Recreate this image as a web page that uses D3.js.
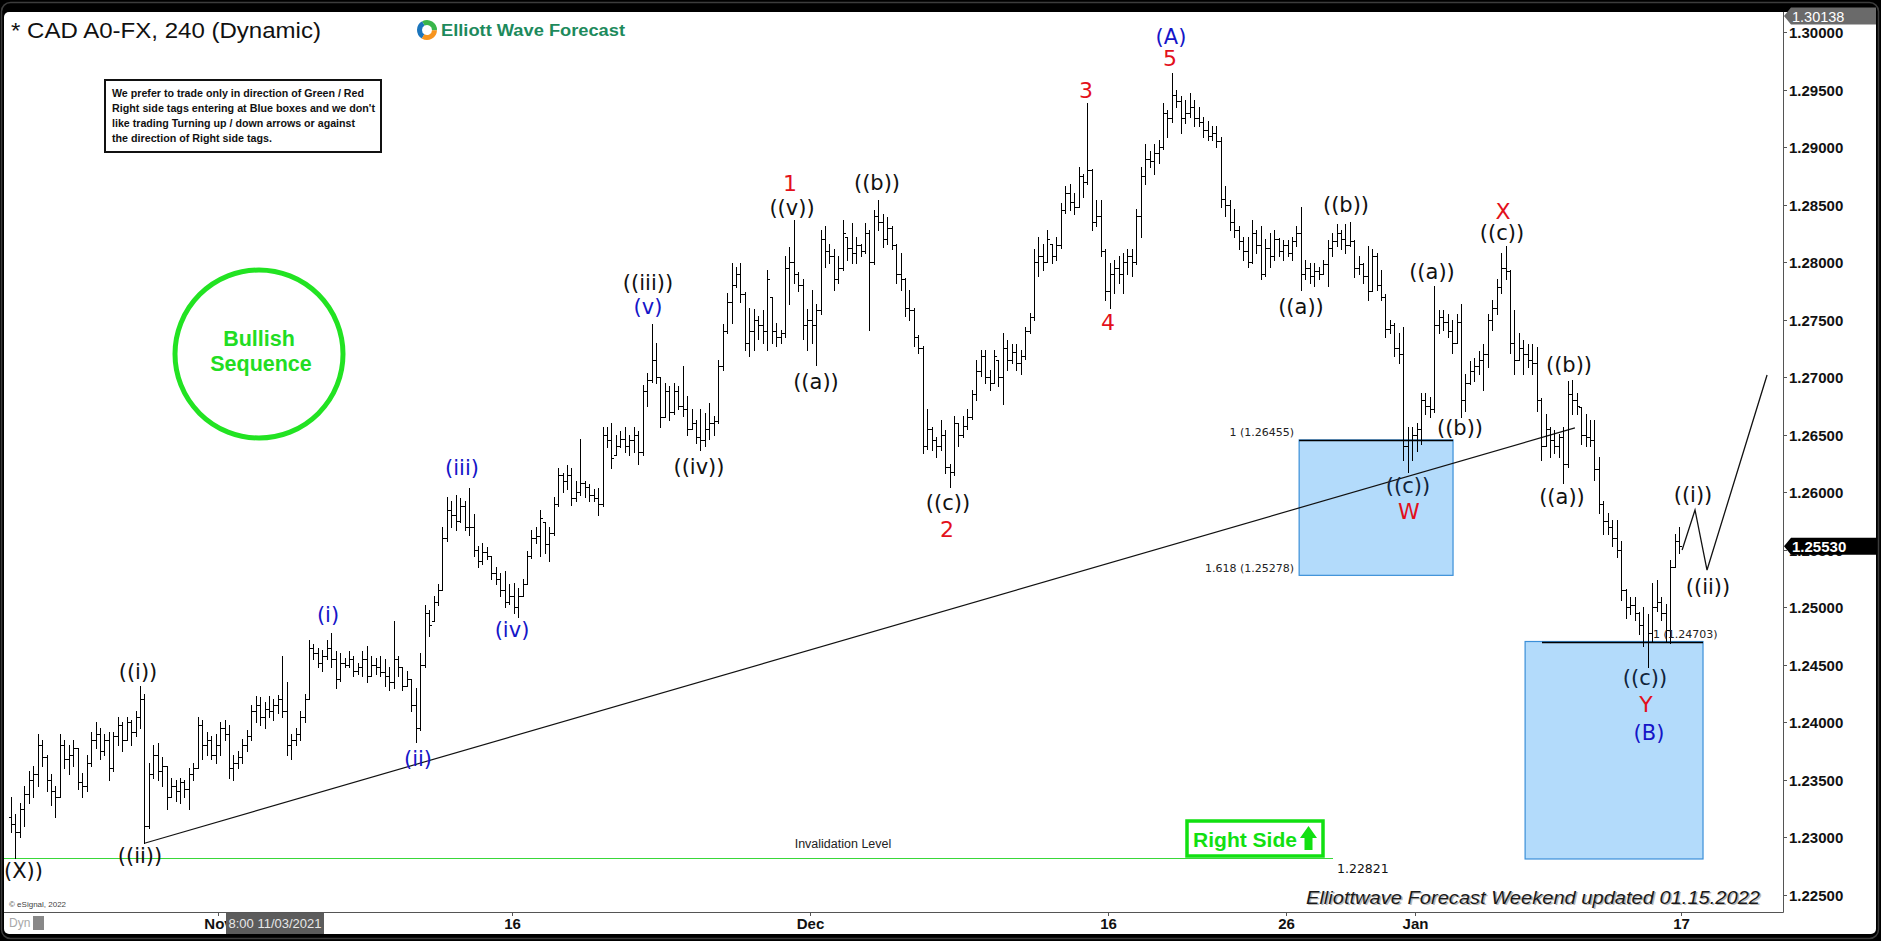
<!DOCTYPE html>
<html><head><meta charset="utf-8">
<script src="https://cdn.jsdelivr.net/npm/d3@7"></script>
<style>html,body{margin:0;padding:0;background:#000;overflow:hidden}</style>
</head><body><svg id="c" width="1881" height="941"></svg>
<script>
// ---------------- DATA (USD/CAD 4h bars) ----------------
const firstOpen = 1.2318;
const highs = [
1.2335,1.2320,1.2330,1.2345,1.2358,1.2362,1.2390,1.2385,1.2372,1.2355,
1.2345,1.2390,1.2385,1.2380,1.2385,1.2378,1.2356,1.2372,1.2392,1.2400,
1.2395,1.2390,1.2392,1.2392,1.2405,1.2400,1.2405,1.2402,1.2410,1.2432,
1.2425,1.2365,1.2380,1.2382,1.2370,1.2362,1.2352,1.2350,1.2352,1.2350,
1.2360,1.2365,1.2405,1.2402,1.2392,1.2388,1.2390,1.2400,1.2402,1.2398,
1.2372,1.2375,1.2386,1.2393,1.2415,1.2423,1.2422,1.2418,1.2423,1.2420,
1.2424,1.2458,1.2435,1.2390,1.2395,1.2410,1.2425,1.2472,1.2468,1.2465,
1.2463,1.2472,1.2478,1.2462,1.2460,1.2456,1.2462,1.2458,1.2452,1.2462,
1.2466,1.2458,1.2456,1.2458,1.2455,1.2448,1.2488,1.2458,1.2448,1.2445,
1.2438,1.2430,1.2460,1.2502,1.2498,1.2510,1.2520,1.2570,1.2596,1.2592,
1.2598,1.2595,1.2592,1.2604,1.2581,1.2553,1.2556,1.2552,1.2545,1.2535,
1.2530,1.2532,1.2520,1.2521,1.2517,1.2525,1.2549,1.2567,1.2570,1.2585,
1.2574,1.2570,1.2596,1.2621,1.2617,1.2624,1.2621,1.2610,1.2646,1.2610,
1.2607,1.2603,1.2604,1.2657,1.2657,1.2660,1.2650,1.2653,1.2657,1.2650,
1.2657,1.2653,1.2693,1.2704,1.2746,1.2730,1.2700,1.2695,1.2692,1.2695,
1.2692,1.2710,1.2684,1.2672,1.2663,1.2672,1.2669,1.2678,1.2666,1.2715,
1.2746,1.2773,1.2799,1.2796,1.2799,1.2774,1.2760,1.2759,1.2753,1.2758,
1.2793,1.2770,1.2747,1.2741,1.2805,1.2813,1.2837,1.2791,1.2785,1.2759,
1.2776,1.2764,1.2828,1.2831,1.2816,1.2811,1.2805,1.2837,1.2822,1.2834,
1.2822,1.2816,1.2834,1.2828,1.2845,1.2854,1.2842,1.2839,1.2831,1.2816,
1.2808,1.2786,1.2776,1.2760,1.2737,1.2727,1.2672,1.2657,1.2648,1.2663,
1.2654,1.2625,1.2666,1.2660,1.2666,1.2672,1.2689,1.2715,1.2724,1.2724,
1.2706,1.2724,1.2715,1.2738,1.2732,1.2729,1.2729,1.2724,1.2744,1.2756,
1.2811,1.2822,1.2816,1.2828,1.2816,1.2822,1.2851,1.2866,1.2868,1.2860,
1.2883,1.2877,1.2938,1.2881,1.2854,1.2854,1.2811,1.2799,1.2802,1.2805,
1.2808,1.2811,1.2811,1.2846,1.2883,1.2903,1.2897,1.2903,1.2906,1.2938,
1.2932,1.2964,1.2950,1.2944,1.2941,1.2947,1.2941,1.2935,1.2926,1.2923,
1.2918,1.2918,1.2909,1.2866,1.2854,1.2846,1.2831,1.2822,1.2822,1.2837,
1.2828,1.2831,1.2820,1.2825,1.2828,1.2821,1.2819,1.2819,1.2822,1.2831,
1.2848,1.2802,1.2799,1.2799,1.2796,1.2802,1.2819,1.2825,1.2833,1.2828,
1.2833,1.2835,1.2819,1.2805,1.2799,1.2814,1.2811,1.2808,1.2793,1.2772,
1.2750,1.2747,1.2738,1.2744,1.2657,1.2657,1.2660,1.2686,1.2686,1.2683,
1.2779,1.2758,1.2758,1.2755,1.2750,1.2755,1.2764,1.2703,1.2714,1.2717,
1.2723,1.2729,1.2755,1.2767,1.2785,1.2808,1.2814,1.2793,1.2758,1.2738,
1.2732,1.2729,1.2729,1.2726,1.2682,1.2668,1.2657,1.2654,1.2651,1.2657,
1.2697,1.2698,1.2686,1.2674,1.2668,1.2663,1.2663,1.2631,1.2592,1.2582,
1.2576,1.2576,1.2558,1.2516,1.2509,1.2509,1.2496,1.2500,1.2494,1.2521,
1.2524,1.2509,1.2503,1.2541,1.2564,1.2570];
const lows = [
1.2305,1.2282,1.2300,1.2310,1.2330,1.2335,1.2345,1.2362,1.2340,1.2328,
1.2318,1.2335,1.2360,1.2355,1.2362,1.2342,1.2335,1.2340,1.2362,1.2378,
1.2368,1.2372,1.2350,1.2358,1.2380,1.2375,1.2385,1.2380,1.2388,1.2395,
1.2295,1.2308,1.2352,1.2350,1.2345,1.2325,1.2335,1.2332,1.2330,1.2335,
1.2325,1.2350,1.2360,1.2368,1.2372,1.2368,1.2365,1.2372,1.2385,1.2352,
1.2350,1.2360,1.2365,1.2375,1.2385,1.2400,1.2398,1.2395,1.2405,1.2402,
1.2408,1.2405,1.2372,1.2368,1.2380,1.2385,1.2400,1.2420,1.2455,1.2448,
1.2445,1.2455,1.2448,1.2430,1.2436,1.2448,1.2448,1.2440,1.2442,1.2440,
1.2435,1.2440,1.2442,1.2440,1.2432,1.2428,1.2430,1.2440,1.2428,1.2432,
1.2410,1.2383,1.2393,1.2448,1.2475,1.2488,1.2502,1.2515,1.2558,1.2570,
1.2567,1.2574,1.2567,1.2563,1.2545,1.2535,1.2538,1.2542,1.2525,1.2520,
1.2510,1.2500,1.2503,1.2495,1.2492,1.2510,1.2520,1.2543,1.2556,1.2545,
1.2547,1.2540,1.2563,1.2588,1.2600,1.2603,1.2589,1.2592,1.2598,1.2596,
1.2592,1.2592,1.2580,1.2588,1.2639,1.2621,1.2632,1.2639,1.2635,1.2632,
1.2635,1.2625,1.2632,1.2675,1.2696,1.2695,1.2657,1.2665,1.2663,1.2668,
1.2672,1.2666,1.2650,1.2655,1.2643,1.2637,1.2640,1.2646,1.2650,1.2660,
1.2706,1.2738,1.2747,1.2778,1.2765,1.2724,1.2718,1.2724,1.2733,1.2730,
1.2724,1.2730,1.2727,1.2730,1.2735,1.2764,1.2782,1.2775,1.2733,1.2724,
1.2730,1.2711,1.2755,1.2796,1.2799,1.2776,1.2782,1.2793,1.2802,1.2799,
1.2799,1.2805,1.2808,1.2741,1.2798,1.2828,1.2813,1.2816,1.2811,1.2782,
1.2776,1.2753,1.2750,1.2727,1.2721,1.2634,1.2638,1.2637,1.2631,1.2637,
1.2617,1.2605,1.2615,1.2640,1.2648,1.2655,1.2664,1.2680,1.2701,1.2695,
1.2689,1.2695,1.2692,1.2677,1.2706,1.2712,1.2706,1.2703,1.2716,1.2738,
1.2750,1.2788,1.2793,1.2800,1.2799,1.2802,1.2812,1.2843,1.2845,1.2842,
1.2848,1.2857,1.2868,1.2828,1.2831,1.2805,1.2767,1.2760,1.2773,1.2782,
1.2773,1.2790,1.2788,1.2798,1.2822,1.2868,1.2883,1.2877,1.2886,1.2898,
1.2909,1.2922,1.2935,1.2912,1.2921,1.2926,1.2918,1.2918,1.2909,1.2906,
1.2906,1.2900,1.2848,1.2840,1.2828,1.2822,1.2811,1.2802,1.2796,1.2799,
1.2808,1.2785,1.2788,1.2796,1.2802,1.2805,1.2802,1.2805,1.2802,1.2814,
1.2776,1.2785,1.2782,1.2779,1.2785,1.2790,1.2779,1.2805,1.2814,1.2811,
1.2808,1.2814,1.2787,1.2790,1.2782,1.2767,1.2775,1.2776,1.2767,1.2735,
1.2738,1.2718,1.2712,1.2628,1.2618,1.2628,1.2636,1.2642,1.2668,1.2665,
1.2670,1.2738,1.2741,1.2735,1.2721,1.2730,1.2665,1.2671,1.2694,1.2697,
1.2703,1.2689,1.2709,1.2741,1.2755,1.2773,1.2785,1.2721,1.2703,1.2715,
1.2703,1.2709,1.2703,1.2671,1.2628,1.2640,1.2631,1.2634,1.2631,1.2608,
1.2622,1.2668,1.2668,1.2642,1.2640,1.2640,1.2611,1.2582,1.2564,1.2564,
1.2553,1.2544,1.2506,1.2491,1.2494,1.2489,1.2477,1.2466,1.2448,1.2471,
1.2497,1.2489,1.2471,1.2469,1.2535,1.2547];
const closes = [
1.2312,1.2305,1.2325,1.2338,1.2350,1.2355,1.2380,1.2370,1.2350,1.2340,
1.2335,1.2380,1.2368,1.2372,1.2378,1.2348,1.2345,1.2365,1.2385,1.2390,
1.2375,1.2385,1.2360,1.2388,1.2398,1.2385,1.2400,1.2392,1.2405,1.2420,
1.2310,1.2355,1.2372,1.2358,1.2362,1.2335,1.2345,1.2340,1.2348,1.2342,
1.2355,1.2360,1.2398,1.2380,1.2385,1.2372,1.2380,1.2395,1.2390,1.2360,
1.2365,1.2370,1.2380,1.2388,1.2410,1.2415,1.2405,1.2412,1.2410,1.2415,
1.2420,1.2410,1.2380,1.2385,1.2390,1.2405,1.2420,1.2465,1.2460,1.2452,
1.2458,1.2465,1.2455,1.2438,1.2452,1.2450,1.2455,1.2445,1.2448,1.2455,
1.2440,1.2450,1.2448,1.2444,1.2440,1.2435,1.2455,1.2448,1.2432,1.2438,
1.2415,1.2395,1.2450,1.2495,1.2485,1.2505,1.2515,1.2560,1.2585,1.2580,
1.2575,1.2588,1.2570,1.2570,1.2550,1.2540,1.2548,1.2545,1.2530,1.2525,
1.2515,1.2505,1.2510,1.2500,1.2510,1.2520,1.2545,1.2560,1.2562,1.2578,
1.2555,1.2565,1.2590,1.2615,1.2610,1.2615,1.2595,1.2600,1.2608,1.2605,
1.2598,1.2595,1.2590,1.2650,1.2645,1.2630,1.2640,1.2646,1.2640,1.2645,
1.2650,1.2635,1.2688,1.2698,1.2715,1.2700,1.2665,1.2688,1.2670,1.2688,
1.2675,1.2672,1.2655,1.2660,1.2648,1.2645,1.2655,1.2660,1.2662,1.2710,
1.2740,1.2765,1.2780,1.2790,1.2772,1.2730,1.2740,1.2750,1.2745,1.2740,
1.2785,1.2740,1.2735,1.2738,1.2795,1.2800,1.2790,1.2780,1.2745,1.2750,
1.2745,1.2758,1.2820,1.2810,1.2805,1.2785,1.2795,1.2825,1.2812,1.2808,
1.2815,1.2810,1.2825,1.2800,1.2840,1.2835,1.2820,1.2830,1.2815,1.2790,
1.2785,1.2760,1.2758,1.2735,1.2725,1.2640,1.2655,1.2645,1.2640,1.2650,
1.2622,1.2618,1.2660,1.2650,1.2658,1.2665,1.2685,1.2705,1.2718,1.2700,
1.2695,1.2718,1.2700,1.2725,1.2715,1.2722,1.2712,1.2718,1.2740,1.2752,
1.2800,1.2805,1.2800,1.2820,1.2805,1.2815,1.2845,1.2860,1.2852,1.2848,
1.2875,1.2870,1.2880,1.2835,1.2840,1.2810,1.2775,1.2790,1.2795,1.2790,
1.2800,1.2805,1.2800,1.2840,1.2875,1.2890,1.2888,1.2895,1.2900,1.2930,
1.2925,1.2945,1.2940,1.2925,1.2930,1.2935,1.2925,1.2922,1.2915,1.2910,
1.2912,1.2905,1.2855,1.2850,1.2835,1.2828,1.2818,1.2810,1.2800,1.2825,
1.2815,1.2790,1.2812,1.2805,1.2820,1.2810,1.2815,1.2808,1.2818,1.2825,
1.2790,1.2795,1.2788,1.2792,1.2790,1.2798,1.2812,1.2818,1.2825,1.2820,
1.2815,1.2818,1.2795,1.2798,1.2788,1.2775,1.2805,1.2780,1.2770,1.2742,
1.2745,1.2725,1.2720,1.2640,1.2645,1.2650,1.2655,1.2680,1.2675,1.2672,
1.2745,1.2752,1.2748,1.2740,1.2730,1.2748,1.2680,1.2695,1.2705,1.2710,
1.2715,1.2720,1.2750,1.2760,1.2778,1.2795,1.2792,1.2730,1.2715,1.2725,
1.2720,1.2715,1.2712,1.2680,1.2640,1.2655,1.2645,1.2640,1.2648,1.2625,
1.2685,1.2680,1.2675,1.2650,1.2648,1.2645,1.2620,1.2590,1.2575,1.2570,
1.2560,1.2550,1.2515,1.2500,1.2502,1.2495,1.2485,1.2470,1.2478,1.2500,
1.2505,1.2495,1.2480,1.2535,1.2558,1.2553];

const yTickValues = [1.225,1.230,1.235,1.240,1.245,1.250,1.255,1.260,1.265,1.270,1.275,1.280,1.285,1.290,1.295,1.300];
const xTickLabels = ["Nov","16","Dec","16","26","Jan","17"];
const xTickBars   = [47,113,180,247,287,316,376];
const lastPrice = 1.25530, topTagPrice = 1.30138, invalidationPrice = 1.22821;
const boxW = [1.26455, 1.25278];   // blue box after W
const boxY = [1.24703, 1.22813];   // blue box at Y/(B)
const trendIdx = [30, 351.6], trendPrice = [1.2295, 1.2656];
const projIdx = [375.7, 378.6, 381.3, 394.8], projPrice = [1.25498, 1.25846, 1.25324, 1.27019];

// ---------------- SCALES ----------------
const svg = d3.select("#c");
const y = d3.scaleLinear().domain([1.225, 1.300]).range([895, 32]);
const x = d3.scaleLinear().domain([0, 375]).range([11, 1679]);
const n = Math.min(highs.length, lows.length, closes.length);

// ---------------- FRAME ----------------
svg.append("rect").attr("x",0).attr("y",0).attr("width",1881).attr("height",941).attr("fill","#000");
svg.append("rect").attr("x",1.5).attr("y",2.5).attr("width",1877).attr("height",936).attr("rx",9)
   .attr("fill","none").attr("stroke","#3c3c3c").attr("stroke-width",1.5);
svg.append("rect").attr("x",4).attr("y",12).attr("width",1872).attr("height",922).attr("rx",5).attr("fill","#fff");
svg.append("defs").append("clipPath").attr("id","plot").append("rect")
   .attr("x",4).attr("y",12).attr("width",1779).attr("height",900);
const plot = svg.append("g").attr("clip-path","url(#plot)");

// ---------------- BLUE BOXES ----------------
function blueBox(i0, i1, pTop, pBot, lineFrom){
  plot.append("rect").attr("x",x(i0)).attr("y",y(pTop)).attr("width",x(i1)-x(i0)).attr("height",y(pBot)-y(pTop))
     .attr("fill","#b3dbfb").attr("stroke","#3b8fd8").attr("stroke-width",1.2);
  plot.append("line").attr("x1",x(lineFrom)).attr("x2",x(i1)).attr("y1",Math.round(y(pTop))+0.5).attr("y2",Math.round(y(pTop))+0.5)
     .attr("stroke","#000").attr("stroke-width",1.3);
}
blueBox(289.6, 324.2, boxW[0], boxW[1], 289.6);
blueBox(340.4, 380.4, boxY[0], boxY[1], 344.2);

// invalidation line
plot.append("line").attr("x1",4).attr("x2",1333).attr("y1",Math.round(y(invalidationPrice))+0.5).attr("y2",Math.round(y(invalidationPrice))+0.5)
   .attr("stroke","#39d839").attr("stroke-width",1.2);

// trendline
plot.append("line").attr("x1",x(trendIdx[0])).attr("y1",y(trendPrice[0])).attr("x2",x(trendIdx[1])).attr("y2",y(trendPrice[1]))
   .attr("stroke","#111").attr("stroke-width",1.2);

// projection path
plot.append("path").attr("d", d3.line().x((d,k)=>x(projIdx[k])).y((d,k)=>y(projPrice[k]))(projIdx))
   .attr("fill","none").attr("stroke","#111").attr("stroke-width",1.3);

// ---------------- OHLC BARS ----------------
let dStr = "";
let prevClose = firstOpen;
for (let i = 0; i < n; i++) {
  const h = highs[i], l = lows[i], c = closes[i];
  const o = Math.max(l, Math.min(h, prevClose));
  const xi = Math.round(x(i)) + 0.5;
  const yh = Math.round(y(h)), yl = Math.round(y(l));
  dStr += `M${xi},${yh}V${yl + 1}`;
  const yo = Math.round(y(o)) + 0.5, yc = Math.round(y(c)) + 0.5;
  dStr += `M${xi - 2.5},${yo}H${xi}`;
  dStr += `M${xi},${yc}H${xi + 2.5}`;
  prevClose = c;
}
plot.append("path").attr("d", dStr).attr("fill","none").attr("stroke","#000").attr("stroke-width",1).attr("shape-rendering","crispEdges");

// ---------------- WAVE LABELS ----------------
const BLK="#111", BLU="#1515c8", RED="#e3101b", NAV="#10243c";
function lab(t, cx, cy, col, size, anchor){
  plot.append("text").attr("x",cx).attr("y",cy).attr("text-anchor",anchor||"middle").attr("dominant-baseline","central")
     .attr("font-family","'DejaVu Sans', Verdana, sans-serif").attr("font-size",size||21).attr("fill",col).text(t);
}
lab("((X))", 43, 871, BLK, 21, "end");
lab("((i))", 138, 672, BLK);
lab("((ii))", 140, 856, BLK);
lab("(i)", 328, 615, BLU);
lab("(ii)", 418, 759, BLU);
lab("(iii)", 462, 468, BLU);
lab("(iv)", 512, 630, BLU);
lab("((iii))", 648, 283, BLK);
lab("(v)", 648, 307, BLU);
lab("((iv))", 699, 467, BLK);
lab("1", 790, 183, RED, 22);
lab("((v))", 792, 208, BLK);
lab("((a))", 816, 382, BLK);
lab("((b))", 877, 183, BLK);
lab("((c))", 948, 503, BLK);
lab("2", 947, 529, RED, 22);
lab("3", 1086, 90, RED, 22);
lab("4", 1108, 322, RED, 22);
lab("(A)", 1171, 37, BLU);
lab("5", 1170, 58, RED, 22);
lab("((b))", 1346, 205, BLK);
lab("((a))", 1301, 307, BLK);
lab("((a))", 1432, 272, BLK);
lab("((b))", 1460, 428, BLK);
lab("((c))", 1408, 486, NAV);
lab("W", 1409, 511, RED, 22);
lab("X", 1503, 211, RED, 22);
lab("((c))", 1502, 233, BLK);
lab("((b))", 1569, 365, BLK);
lab("((a))", 1562, 497, BLK);
lab("((c))", 1645, 678, NAV);
lab("Y", 1646, 704, RED, 22);
lab("(B)", 1649, 733, BLU);
lab("((i))", 1693, 495, BLK);
lab("((ii))", 1708, 587, BLK);

// fib labels
function small(t, cx, cy, anchor){
  plot.append("text").attr("x",cx).attr("y",cy).attr("text-anchor",anchor).attr("dominant-baseline","central")
     .attr("font-family","'DejaVu Sans', Tahoma, sans-serif").attr("font-size",11).attr("fill","#222").text(t);
}
small("1 (" + boxW[0].toFixed(5) + ")", 1294, 432, "end");
small("1.618 (" + boxW[1].toFixed(5) + ")", 1294, 568, "end");
small("1 (" + boxY[0].toFixed(5) + ")", 1653, 634, "start");

plot.append("text").attr("x",843).attr("y",844).attr("text-anchor","middle").attr("dominant-baseline","central")
   .attr("font-family","'Liberation Sans', Arial, sans-serif").attr("font-size",12.5).attr("fill","#222").text("Invalidation Level");
plot.append("text").attr("x",1337).attr("y",868).attr("dominant-baseline","central")
   .attr("font-family","'DejaVu Sans', Tahoma, sans-serif").attr("font-size",12.5).attr("fill","#111").text(invalidationPrice.toFixed(5));

// Right Side tag
plot.append("rect").attr("x",1187).attr("y",821).attr("width",136).attr("height",35).attr("fill","#fff").attr("stroke","#11e011").attr("stroke-width",3.5);
plot.append("text").attr("x",1193).attr("y",839).attr("dominant-baseline","central").attr("font-family","'Liberation Sans', Arial, sans-serif")
   .attr("font-weight","bold").attr("font-size",21).attr("fill","#11e011").attr("textLength",104).attr("lengthAdjust","spacingAndGlyphs").text("Right Side");
plot.append("path").attr("d","M1308.5,826 L1317,838 L1312.5,838 L1312.5,850 L1304.5,850 L1304.5,838 L1300,838 Z").attr("fill","#11e011");

// Bullish Sequence circle
plot.append("circle").attr("cx",259).attr("cy",354).attr("r",84).attr("fill","none").attr("stroke","#22e322").attr("stroke-width",5);
["Bullish","Sequence"].forEach((t,k)=>{
  plot.append("text").attr("x",259 + k*2).attr("y",339 + k*25).attr("text-anchor","middle").attr("dominant-baseline","central")
    .attr("font-family","'Liberation Sans', Arial, sans-serif").attr("font-weight","bold").attr("font-size",21.5).attr("fill","#22dd22").text(t);
});

// note box
plot.append("rect").attr("x",105).attr("y",80).attr("width",276).attr("height",72).attr("fill","#fff").attr("stroke","#111").attr("stroke-width",2);
const notes = ["We prefer to trade only in direction of Green / Red","Right side tags entering at Blue boxes and we don't","like trading Turning up / down arrows or against","the direction of Right side tags."];
const noteW = [252, 263, 243, 160];
notes.forEach((t,k)=>{
  plot.append("text").attr("x",112).attr("y",93 + k*15).attr("dominant-baseline","central")
    .attr("font-family","'Liberation Sans Narrow', 'Arial Narrow', 'Liberation Sans', sans-serif").attr("font-weight","bold")
    .attr("font-size",11.5).attr("fill","#111").attr("textLength",noteW[k]).attr("lengthAdjust","spacingAndGlyphs").text(t);
});

// title + logo
svg.append("text").attr("x",11).attr("y",30).attr("dominant-baseline","central").attr("font-family","'Liberation Sans', Arial, sans-serif")
   .attr("font-size",22).attr("fill","#111").attr("textLength",310).attr("lengthAdjust","spacingAndGlyphs").text("* CAD A0-FX, 240 (Dynamic)");
const arc = d3.arc().innerRadius(5).outerRadius(10);
const logo = svg.append("g").attr("transform","translate(427,30)");
[[ -2.6, -0.5, "#1b75bc"],[ -0.5, 1.6, "#39b54a"],[1.6, 3.7, "#f7941d"]].forEach(a=>{
  logo.append("path").attr("d", arc({startAngle:a[0], endAngle:a[1]})).attr("fill", a[2]);
});
svg.append("text").attr("x",441).attr("y",30).attr("dominant-baseline","central").attr("font-family","'Liberation Sans', Arial, sans-serif")
   .attr("font-weight","bold").attr("font-size",16).attr("fill","#1d8a5c").attr("textLength",184).attr("lengthAdjust","spacingAndGlyphs").text("Elliott Wave Forecast");

// footer
["#b8b8b8","#1a1a1a"].forEach((col,k)=>{
  plot.append("text").attr("x",1306 + (k?0:1.5)).attr("y",897 + (k?0:1.5)).attr("dominant-baseline","central")
    .attr("font-family","'Liberation Sans', Arial, sans-serif").attr("font-style","italic").attr("font-size",19)
    .attr("fill",col).attr("textLength",454).attr("lengthAdjust","spacingAndGlyphs").text("Elliottwave Forecast Weekend updated 01.15.2022");
});
plot.append("text").attr("x",9).attr("y",904).attr("dominant-baseline","central").attr("font-family","'Liberation Sans', Arial, sans-serif")
   .attr("font-size",8).attr("fill","#444").text("© eSignal, 2022");

// ---------------- AXES ----------------
svg.append("line").attr("x1",1783.5).attr("x2",1783.5).attr("y1",12).attr("y2",912.5).attr("stroke","#555");
svg.append("line").attr("x1",4).attr("x2",1783.5).attr("y1",912.5).attr("y2",912.5).attr("stroke","#555");

const yAx = svg.append("g");
yTickValues.forEach(v=>{
  const yy = Math.round(y(v)) + 0.5;
  yAx.append("line").attr("x1",1783).attr("x2",1787).attr("y1",yy).attr("y2",yy).attr("stroke","#555");
  yAx.append("text").attr("x",1789).attr("y",yy).attr("dominant-baseline","central").attr("font-family","'Liberation Sans', Arial, sans-serif")
     .attr("font-weight","bold").attr("font-size",15).attr("fill","#111").text(v.toFixed(5));
});

const xAx = svg.append("g");
xTickBars.forEach((b,k)=>{
  const xx = Math.round(x(b) - 2) + 0.5;
  xAx.append("line").attr("x1",xx).attr("x2",xx).attr("y1",912).attr("y2",916).attr("stroke","#555");
  xAx.append("text").attr("x",xx).attr("y",923).attr("text-anchor","middle").attr("dominant-baseline","central")
     .attr("font-family","'Liberation Sans', Arial, sans-serif").attr("font-weight","bold").attr("font-size",15).attr("fill","#111").text(xTickLabels[k]);
});
// crosshair date box
xAx.append("rect").attr("x",226).attr("y",913).attr("width",98).attr("height",21).attr("fill","#5c5c5c");
xAx.append("text").attr("x",275).attr("y",923.5).attr("text-anchor","middle").attr("dominant-baseline","central")
   .attr("font-family","'Liberation Sans', Arial, sans-serif").attr("font-size",13).attr("fill","#e8e8e8").text("8:00 11/03/2021");
xAx.append("text").attr("x",9).attr("y",923).attr("dominant-baseline","central").attr("font-family","'Liberation Sans', Arial, sans-serif")
   .attr("font-size",12).attr("fill","#a8a8a8").text("Dyn");
xAx.append("rect").attr("x",33).attr("y",916).attr("width",11).attr("height",14).attr("fill","#888");

// price tags
function tag(p, fill, bold){
  const yy = y(p);
  svg.append("path").attr("d",`M1784,${yy} L1791,${yy-8.5} L1876,${yy-8.5} L1876,${yy+8.5} L1791,${yy+8.5} Z`).attr("fill",fill);
  svg.append("text").attr("x",1792).attr("y",yy+0.5).attr("dominant-baseline","central").attr("font-family","'Liberation Sans', Arial, sans-serif")
     .attr("font-weight",bold?"bold":"normal").attr("font-size",bold?15:14.5).attr("fill","#fff").text(p.toFixed(5));
}
tag(topTagPrice, "#6a6a6a", false);
tag(lastPrice, "#000", true);
</script></body></html>
